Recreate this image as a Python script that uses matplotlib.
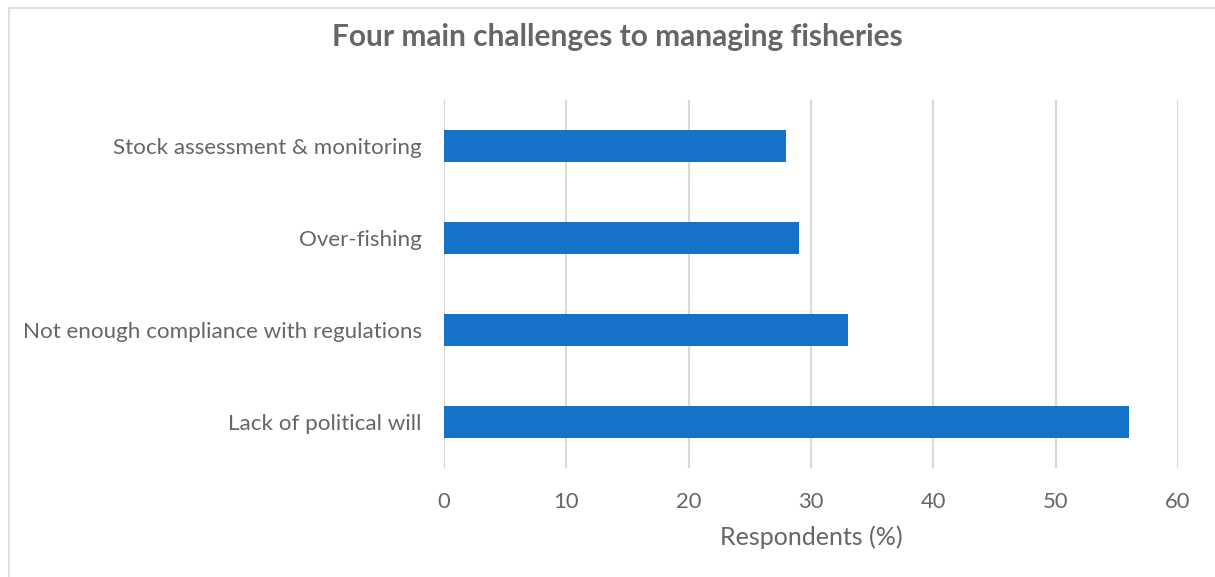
import matplotlib.pyplot as plt
from matplotlib.patches import Rectangle

# Survey results, bottom to top
challenges = [
    "Lack of political will",
    "Not enough compliance with regulations",
    "Over-fishing",
    "Stock assessment & monitoring",
]
respondents = [56, 33, 29, 28]
x_ticks = [0, 10, 20, 30, 40, 50, 60]

text_grey = "#666666"
plt.rcParams["font.family"] = ["Lato", "DejaVu Sans"]

fig = plt.figure(figsize=(12.15, 5.77), dpi=100)
ax = fig.add_axes([0.3654, 0.189, 0.6041, 0.638])

ax.barh(range(len(challenges)), respondents, height=0.35, color="#1572c8", zorder=3)

ax.set_xlim(x_ticks[0], x_ticks[-1])
ax.set_ylim(-0.5, len(challenges) - 0.5)
ax.set_xticks(x_ticks)
ax.set_yticks(range(len(challenges)))
ax.set_yticklabels(challenges)
ax.tick_params(length=0, labelsize=15.8, colors=text_grey)
ax.tick_params(axis="y", labelsize=16.1, pad=16)
ax.tick_params(axis="x", pad=17)
ax.grid(axis="x", color="#d9d9d9", linewidth=1.5, zorder=0)
for side in ax.spines.values():
    side.set_visible(False)

ax.set_xlabel("Respondents (%)", fontsize=18, color=text_grey, labelpad=10)
fig.text(0.508, 0.936, "Four main challenges to managing fisheries",
         ha="center", va="center", fontsize=21.5, fontweight="bold", color=text_grey)

# light frame around the chart area
fig.patches.append(Rectangle((9 / 1215, -0.01), 1.0, 1 - 8 / 577 + 0.01,
                             transform=fig.transFigure, fill=False,
                             edgecolor="#d9d9d9", linewidth=1.2))

fig.savefig("out.png", dpi=100)
